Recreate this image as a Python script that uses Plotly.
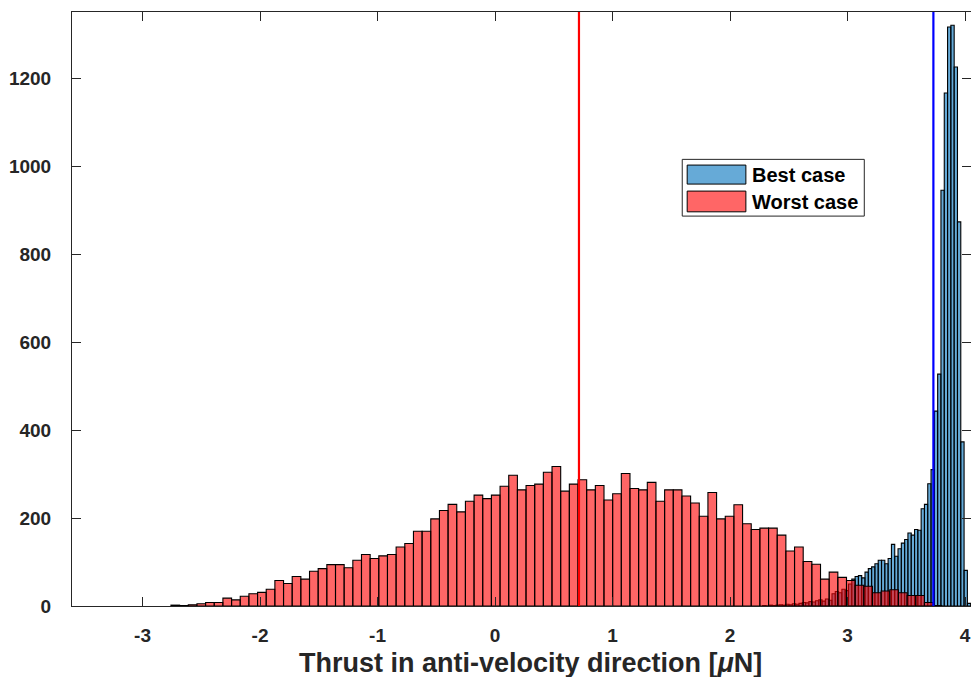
import numpy as np
import plotly.graph_objects as go

# Histogram counts per bin (thrust in anti-velocity direction, micro-newtons)
worst_counts = [
    2, 1, 3, 5, 8, 8, 18, 14, 22, 28,
    31, 38, 58, 51, 67, 61, 79, 85, 94, 94,
    87, 104, 117, 108, 114, 117, 134, 142, 170, 170,
    198, 217, 231, 214, 238, 252, 244, 252, 272, 297,
    264, 274, 277, 304, 317, 261, 277, 287, 264, 274,
    241, 255, 301, 267, 264, 281, 238, 264, 264, 250,
    234, 204, 258, 198, 204, 230, 187, 174, 177, 177,
    161, 125, 134, 101, 95, 61, 77, 65, 58, 47,
    45, 30, 34, 37, 30, 24, 24, 8, 1,
]
best_counts = [
    1, 0, 2, 1, 2, 3, 2, 4, 3, 5,
    4, 6, 8, 7, 10, 9, 12, 14, 11, 16,
    13, 28, 33, 30, 38, 35, 50,
    61, 67, 69, 64, 77, 85, 89, 96, 104, 104,
    96, 108, 140, 113, 130, 143, 151, 166, 161, 174,
    172, 221, 231, 278, 310,
    443, 527, 945, 1166, 1316, 1320, 1225, 873, 373, 81, 6,
]

# Bin layout of each histogram
worst_first_edge = -2.758
worst_bin_width = 0.0737
best_first_edge = 2.277
best_bin_width = 0.0281

# Mean thrust of each case
best_mean = 3.73
worst_mean = 0.714

x_ticks = [-3, -2, -1, 0, 1, 2, 3, 4]
x_tick_labels = ["-3", "-2", "-1", "0", "1", "2", "3", "4"]
y_ticks = [0, 200, 400, 600, 800, 1000, 1200]
x_label = "Thrust in anti-velocity direction [<i>μ</i>N]"
series_names = ["Best case", "Worst case"]

BLUE_FILL = "rgba(0,114,189,0.6)"
RED_FILL = "rgba(255,0,0,0.6)"
AXIS_COLOR = "#262626"
FONT = "Liberation Sans, Arial, Helvetica, sans-serif"


def bin_centers(first_edge, width, n):
    return first_edge + width * (np.arange(n) + 0.5)


fig = go.Figure()

fig.add_trace(go.Bar(
    x=bin_centers(best_first_edge, best_bin_width, len(best_counts)),
    y=best_counts,
    width=best_bin_width,
    name=series_names[0],
    marker=dict(color=BLUE_FILL, line=dict(color="black", width=1.1)),
    showlegend=False,
))
fig.add_trace(go.Bar(
    x=bin_centers(worst_first_edge, worst_bin_width, len(worst_counts)),
    y=worst_counts,
    width=worst_bin_width,
    name=series_names[1],
    marker=dict(color=RED_FILL, line=dict(color="black", width=1.1)),
    showlegend=False,
))

# Mean lines
fig.add_shape(type="line", x0=best_mean, x1=best_mean, y0=0, y1=1,
              xref="x", yref="paper", line=dict(color="rgb(0,0,255)", width=2.2))
fig.add_shape(type="line", x0=worst_mean, x1=worst_mean, y0=0, y1=1,
              xref="x", yref="paper", line=dict(color="rgb(255,0,0)", width=2.2))

# Legend box with wide swatches
lx0, lx1, ly0, ly1 = 0.6788, 0.8813, 0.6564, 0.7519
fig.add_shape(type="rect", xref="paper", yref="paper", x0=lx0, x1=lx1, y0=ly0, y1=ly1,
              fillcolor="white", line=dict(color=AXIS_COLOR, width=1), layer="above")
swatches = [(BLUE_FILL, 0.7103, 0.7423, 0.7263), (RED_FILL, 0.6636, 0.6985, 0.6808)]
for name, (fill, sy0, sy1, ty) in zip(series_names, swatches):
    fig.add_shape(type="rect", xref="paper", yref="paper", x0=0.6843, x1=0.7496,
                  y0=sy0, y1=sy1, fillcolor=fill, line=dict(color="black", width=1),
                  layer="above")
    fig.add_annotation(text=name, xref="paper", yref="paper", x=0.7545, y=ty,
                       xanchor="left", yanchor="middle", showarrow=False,
                       font=dict(family=FONT, size=20, color="black", weight="bold"))

# Axis title
fig.add_annotation(text=x_label, xref="paper", yref="paper", x=0.5104, y=-0.0965,
                   xanchor="center", yanchor="middle", showarrow=False,
                   font=dict(family=FONT, size=27, color=AXIS_COLOR, weight="bold"))

axis_common = dict(
    showgrid=False, zeroline=False, showline=True, linecolor=AXIS_COLOR, linewidth=1,
    mirror="ticks", ticks="inside", ticklen=9, tickwidth=1, tickcolor=AXIS_COLOR,
    tickfont=dict(family=FONT, size=19, color=AXIS_COLOR, weight="bold"),
)
fig.update_xaxes(range=[-3.6, 4.05], tickvals=x_ticks, ticktext=x_tick_labels,
                 ticklabelstandoff=12, **axis_common)
fig.update_yaxes(range=[0, 1350], tickvals=y_ticks, ticklabelstandoff=16, **axis_common)

fig.update_layout(
    width=971, height=677,
    margin=dict(l=72, r=0, t=12, b=71),
    barmode="overlay",
    plot_bgcolor="white", paper_bgcolor="white",
    showlegend=False,
)

fig.write_html("out.html")
